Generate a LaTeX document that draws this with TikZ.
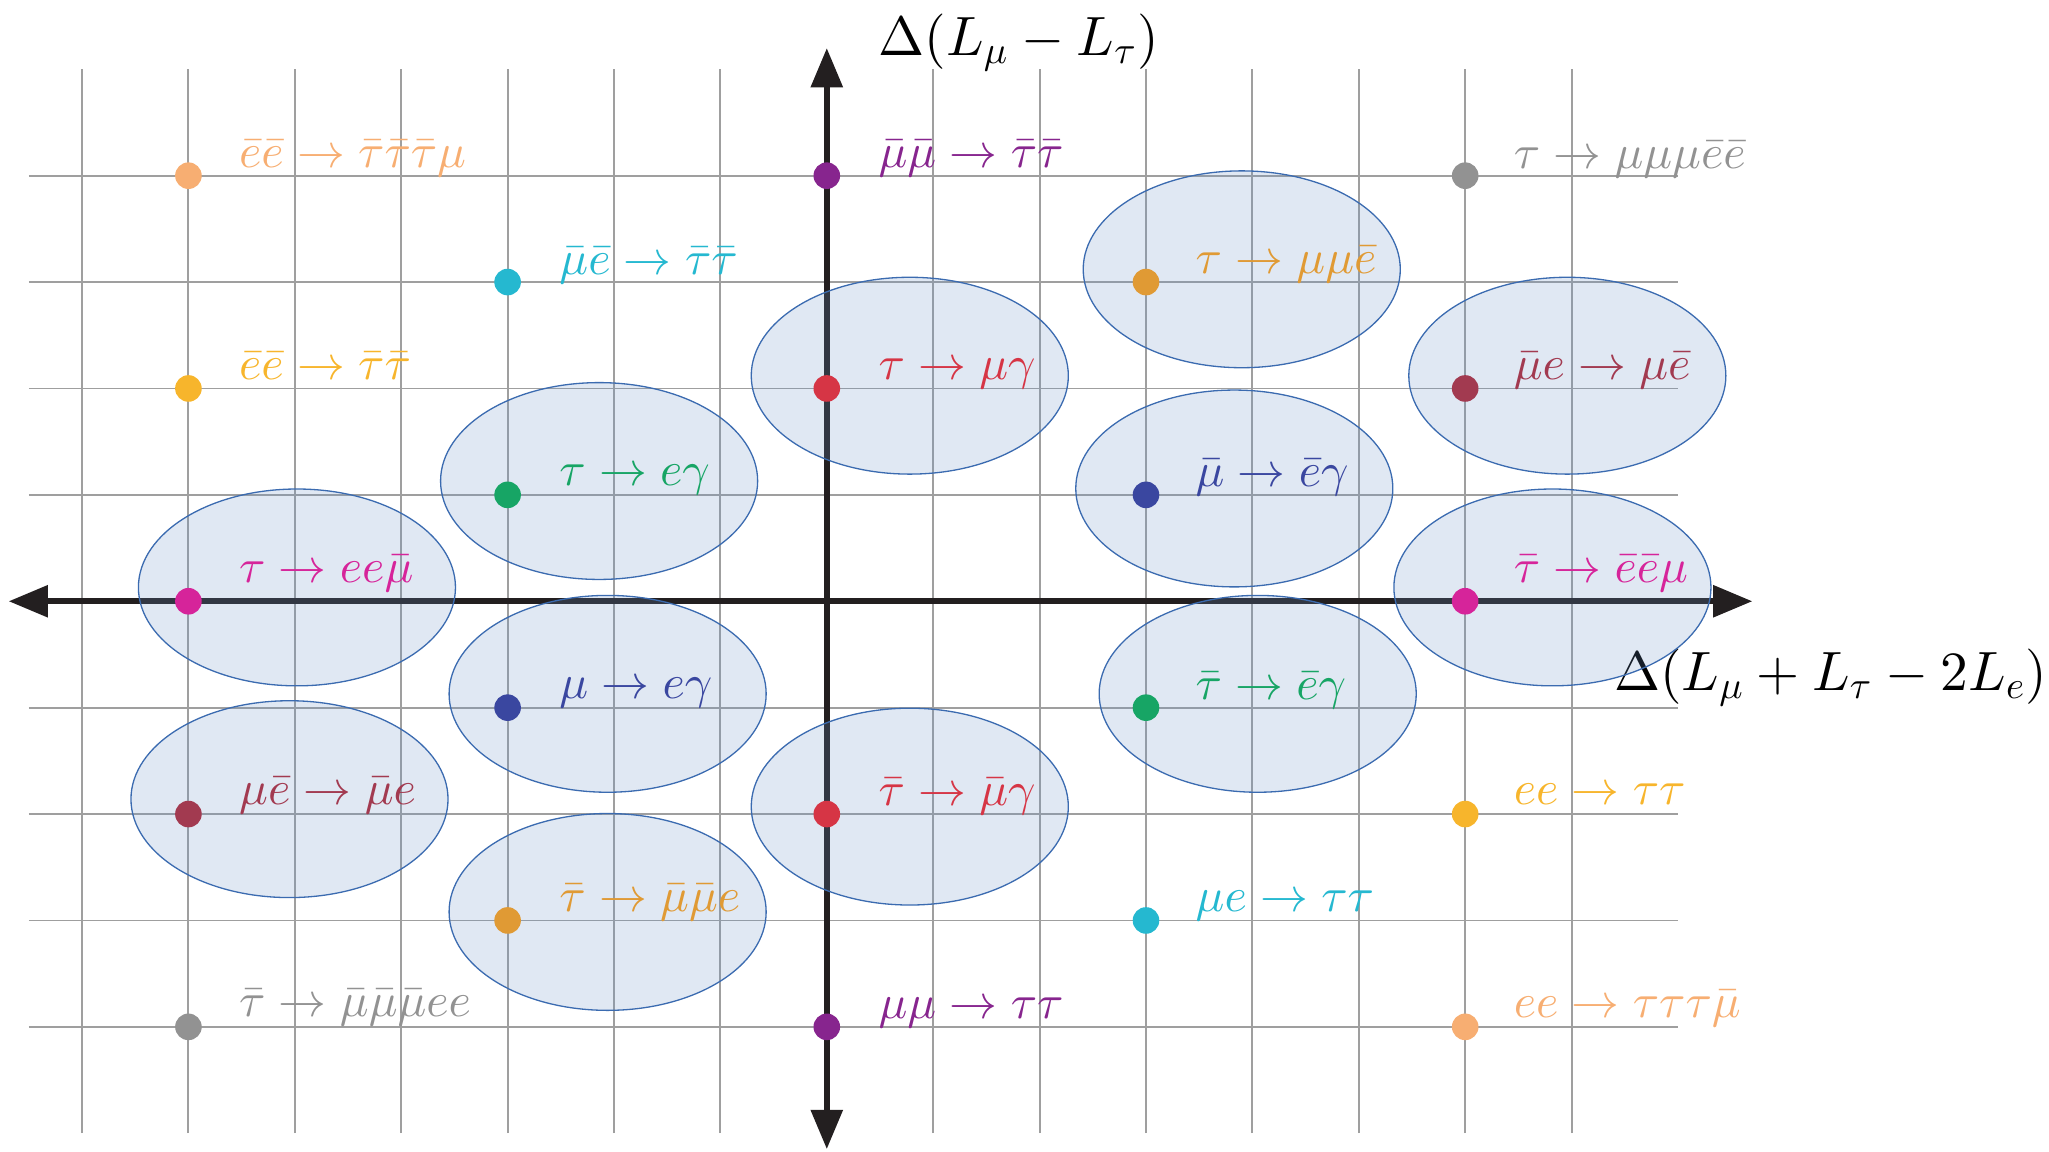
\documentclass[tikz,border=0pt]{standalone}
\usetikzlibrary{arrows.meta}
\DeclareFontShape{OML}{cmm}{m}{it}{<->cmmi10}{\skewchar\font'177}
\DeclareFontShape{OMS}{cmsy}{m}{n}{<->cmsy10}{\skewchar\font'60}
\DeclareFontShape{OT1}{cmr}{m}{n}{<->cmr10}{}
\definecolor{peach}{RGB}{247,174,114}
\definecolor{amber}{RGB}{247,181,44}
\definecolor{teal}{RGB}{37,184,208}
\definecolor{jade}{RGB}{23,165,101}
\definecolor{pink}{RGB}{214,36,154}
\definecolor{navy}{RGB}{58,71,160}
\definecolor{wine}{RGB}{162,58,80}
\definecolor{ochre}{RGB}{224,154,52}
\definecolor{ash}{RGB}{146,146,146}
\definecolor{plum}{RGB}{135,37,142}
\definecolor{crimson}{RGB}{214,53,69}
\definecolor{axisblack}{RGB}{35,31,32}
\definecolor{blobfill}{RGB}{107,145,198}
\definecolor{blobline}{RGB}{59,107,176}
\begin{document}
\begin{tikzpicture}[x=1cm,y=1cm,
  gridline/.style={draw=gray!75,line width=0.5pt},
  axis/.style={draw=axisblack,line width=1.7pt,{Triangle[length=0.37cm,width=0.29cm]}-{Triangle[length=0.37cm,width=0.29cm]}},
  blob/.style={draw=blobline,line width=0.35pt,fill=blobfill,fill opacity=0.21},
  dot/.style={circle,fill=#1,inner sep=0pt,minimum size=0.25cm},
  lbl/.style={text=#1,anchor=base west,inner sep=0pt,font=\fontsize{12.8}{15}\selectfont},
  axlbl/.style={inner sep=0pt,font=\fontsize{14.8}{18}\selectfont}]
\useasboundingbox (-7.771,-5.176) rectangle (11.487,5.651);
% lattice of charge steps
\foreach \x in {-7,...,7} \draw[gridline] (\x,-5) -- (\x,5);
\foreach \y in {-4,...,4} \draw[gridline] (-7.5,\y) -- (8,\y);
% axes
\coordinate (west) at (-7.69,0); \coordinate (east) at (8.70,0);
\coordinate (south) at (0,-5.15); \coordinate (north) at (0,5.20);
\draw[axis] (west) -- (east);
\draw[axis] (south) -- (north);
\node[axlbl,anchor=base west] (ylab) at (0.48,5.13) {$\Delta(L_\mu-L_\tau)$};
\node[axlbl,anchor=base east] (xlab) at (11.48,-0.84) {$\Delta(L_\mu+L_\tau-2L_e)$};
% shaded regions
\draw[blob] (0.78,2.12) ellipse (1.49 and 0.925);
\draw[blob] (3.90,3.12) ellipse (1.49 and 0.925);
\draw[blob] (6.96,2.12) ellipse (1.49 and 0.925);
\draw[blob] (3.83,1.06) ellipse (1.49 and 0.925);
\draw[blob] (6.82,0.13) ellipse (1.49 and 0.925);
\draw[blob] (4.05,-0.87) ellipse (1.49 and 0.925);
\draw[blob] (-2.14,1.13) ellipse (1.49 and 0.925);
\draw[blob] (-4.98,0.13) ellipse (1.49 and 0.925);
\draw[blob] (-2.06,-0.87) ellipse (1.49 and 0.925);
\draw[blob] (-5.05,-1.86) ellipse (1.49 and 0.925);
\draw[blob] (0.78,-1.93) ellipse (1.49 and 0.925);
\draw[blob] (-2.06,-2.92) ellipse (1.49 and 0.925);
% left column
\node[dot=peach] (ebtA) at (-6,4) {}; \node[lbl=peach] at (-5.53,4.08) {$\bar e\bar e\to\bar\tau\bar\tau\bar\tau\mu$};
\node[dot=amber] (ebtB) at (-6,2) {}; \node[lbl=amber] at (-5.53,2.08) {$\bar e\bar e\to\bar\tau\bar\tau$};
\node[dot=pink] (teem) at (-6,0) {}; \node[lbl=pink] at (-5.53,0.18) {$\tau\to ee\bar\mu$};
\node[dot=wine] (mueA) at (-6,-2) {}; \node[lbl=wine] at (-5.53,-1.91) {$\mu\bar e\to\bar\mu e$};
\node[dot=ash] (tmmm) at (-6,-4) {}; \node[lbl=ash] at (-5.53,-3.90) {$\bar\tau\to\bar\mu\bar\mu\bar\mu ee$};
% second column
\node[dot=teal] (meA) at (-3,3) {}; \node[lbl=teal] at (-2.52,3.07) {$\bar\mu\bar e\to\bar\tau\bar\tau$};
\node[dot=jade] (tegA) at (-3,1) {}; \node[lbl=jade] at (-2.52,1.09) {$\tau\to e\gamma$};
\node[dot=navy] (megA) at (-3,-1) {}; \node[lbl=navy] at (-2.52,-0.91) {$\mu\to e\gamma$};
\node[dot=ochre] (tmmeA) at (-3,-3) {}; \node[lbl=ochre] at (-2.52,-2.92) {$\bar\tau\to\bar\mu\bar\mu e$};
% vertical axis
\node[dot=plum] (mmA) at (0,4) {}; \node[lbl=plum] at (0.48,4.08) {$\bar\mu\bar\mu\to\bar\tau\bar\tau$};
\node[dot=crimson] (tmgA) at (0,2) {}; \node[lbl=crimson] at (0.48,2.08) {$\tau\to\mu\gamma$};
\node[dot=crimson] (tmgB) at (0,-2) {}; \node[lbl=crimson] at (0.48,-1.92) {$\bar\tau\to\bar\mu\gamma$};
\node[dot=plum] (mmB) at (0,-4) {}; \node[lbl=plum] at (0.48,-3.92) {$\mu\mu\to\tau\tau$};
% fourth column
\node[dot=ochre] (tmmeB) at (3,3) {}; \node[lbl=ochre] at (3.46,3.08) {$\tau\to\mu\mu\bar e$};
\node[dot=navy] (megB) at (3,1) {}; \node[lbl=navy] at (3.46,1.08) {$\bar\mu\to\bar e\gamma$};
\node[dot=jade] (tegB) at (3,-1) {}; \node[lbl=jade] at (3.46,-0.92) {$\bar\tau\to\bar e\gamma$};
\node[dot=teal] (meB) at (3,-3) {}; \node[lbl=teal] at (3.46,-2.92) {$\mu e\to\tau\tau$};
% right column
\node[dot=ash] (tmmmB) at (6,4) {}; \node[lbl=ash] at (6.45,4.07) {$\tau\to\mu\mu\mu\bar e\bar e$};
\node[dot=wine] (mueB) at (6,2) {}; \node[lbl=wine] at (6.45,2.08) {$\bar\mu e\to\mu\bar e$};
\node[dot=pink] (teemB) at (6,0) {}; \node[lbl=pink] at (6.45,0.18) {$\bar\tau\to\bar e\bar e\mu$};
\node[dot=amber] (eetB) at (6,-2) {}; \node[lbl=amber] at (6.45,-1.91) {$ee\to\tau\tau$};
\node[dot=peach] (eetA) at (6,-4) {}; \node[lbl=peach] at (6.45,-3.91) {$ee\to\tau\tau\tau\bar\mu$};
\end{tikzpicture}
\end{document}
